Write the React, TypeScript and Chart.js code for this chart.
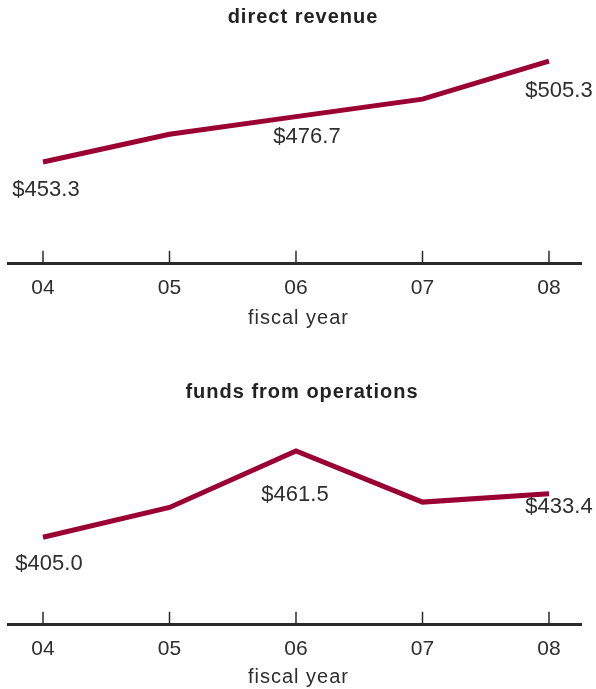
import React, { useEffect, useRef } from 'react';
import { Chart, registerables } from 'chart.js';

Chart.register(...registerables);

// ---- data ----
const years = ['04', '05', '06', '07', '08'];
const revenueValues = [453.3, 467.6, 476.7, 485.7, 505.3];
const fundsValues = [405.0, 424.5, 461.5, 428.0, 433.4];
const labeledIndices = [0, 2, 4];

// ---- styles ----
const FONT = '"Liberation Sans", Arial, Helvetica, sans-serif';
const LINE_COLOR = '#9b0033';
const TEXT_COLOR = '#2e2e2e';
const AXIS_COLOR = '#2a2a2a';

type Panel = {
  title: string;
  values: number[];
  top: number;
  height: number;
  yMin: number;
  yMax: number;
  titlePad: { top: number; bottom: number };
  titleShift: number;
  axisTitlePad: { top: number; bottom: number };
  labelOffsets: [number, number][];
};

const panels: Panel[] = [
  {
    title: 'direct revenue',
    values: revenueValues,
    top: 0,
    height: 332,
    yMin: 400.87,
    yMax: 516.7,
    titlePad: { top: 5, bottom: 10 },
    titleShift: 17,
    axisTitlePad: { top: -7, bottom: 2 },
    labelOffsets: [[3, 28], [11, 20], [10, 30]],
  },
  {
    title: 'funds from operations',
    values: fundsValues,
    top: 345,
    height: 346,
    yMin: 347.7,
    yMax: 485.65,
    titlePad: { top: 35, bottom: 10 },
    titleShift: 15,
    axisTitlePad: { top: -9, bottom: 2 },
    labelOffsets: [[6, 27], [-1, 44], [10, 13]],
  },
];

const spacingPlugin = {
  id: 'letterSpacing',
  afterLayout(chart: any, _args: any, opts: any) {
    const tb = chart.titleBlock;
    if (tb && opts && opts.titleShift) {
      tb.left += opts.titleShift;
    }
    const xs = chart.scales.x;
    if (xs && !xs.__wrapped) {
      const origLabels = xs.drawLabels;
      xs.drawLabels = function (area: any) {
        const ctx = this.ctx as any;
        const prev = ctx.letterSpacing;
        ctx.letterSpacing = '0px';
        origLabels.call(this, area);
        ctx.letterSpacing = prev;
      };
      const origTitle = xs.drawTitle;
      xs.drawTitle = function () {
        const ctx = this.ctx as any;
        ctx.save();
        ctx.translate(4, 0);
        origTitle.call(this);
        ctx.restore();
      };
      xs.__wrapped = true;
    }
  },
  beforeDraw(chart: any) {
    (chart.ctx as any).letterSpacing = '1px';
  },
  afterDraw(chart: any) {
    (chart.ctx as any).letterSpacing = '0px';
  },
};

const tickMarksPlugin = {
  id: 'tickMarks',
  beforeDatasetsDraw(chart: any) {
    const { ctx, chartArea, scales } = chart;
    const xs = scales.x;
    ctx.save();
    ctx.strokeStyle = AXIS_COLOR;
    ctx.lineWidth = 1.5;
    years.forEach((_, i) => {
      const x = xs.getPixelForValue(i);
      ctx.beginPath();
      ctx.moveTo(x, chartArea.bottom);
      ctx.lineTo(x, chartArea.bottom - 13);
      ctx.stroke();
    });
    ctx.restore();
  },
};

const valueLabelsPlugin = {
  id: 'valueLabels',
  afterDatasetsDraw(chart: any, _args: any, opts: any) {
    const { ctx } = chart;
    const meta = chart.getDatasetMeta(0);
    const data = chart.data.datasets[0].data as { x: number; y: number }[];
    ctx.save();
    (ctx as any).letterSpacing = '0px';
    ctx.font = `22px ${FONT}`;
    ctx.fillStyle = TEXT_COLOR;
    ctx.textAlign = 'center';
    ctx.textBaseline = 'middle';
    labeledIndices.forEach((idx, k) => {
      const pt = meta.data[idx];
      const [dx, dy] = opts.offsets[k];
      ctx.fillText('$' + data[idx].y.toFixed(1), pt.x + dx, pt.y + dy);
    });
    ctx.restore();
  },
};

function PanelChart({ p }: { p: Panel }) {
  const ref = useRef<HTMLCanvasElement>(null);
  useEffect(() => {
    const canvas = ref.current!;
    const chart = new Chart(canvas, {
      type: 'line',
      data: {
        datasets: [
          {
            data: p.values.map((v, i) => ({ x: i, y: v })),
            borderColor: LINE_COLOR,
            borderWidth: 5,
            pointRadius: 0,
            tension: 0,
            fill: false,
            borderJoinStyle: 'miter',
            clip: false as any,
          },
        ],
      },
      options: {
        animation: false,
        responsive: false,
        devicePixelRatio: 1,
        layout: { padding: { left: 8, right: 15, top: 0, bottom: 0 } },
        scales: {
          x: {
            type: 'linear',
            min: -0.2767,
            max: 4.253,
            afterBuildTicks: (s: any) => {
              s.ticks = years.map((_, i) => ({ value: i }));
            },
            grid: { display: false, drawTicks: false, tickLength: 0 },
            border: { display: true, color: AXIS_COLOR, width: 3 },
            ticks: {
              autoSkip: false,
              maxRotation: 0,
              padding: 12,
              color: TEXT_COLOR,
              font: { family: FONT, size: 21 },
              callback: (v: any) => years[v as number] ?? '',
            },
            title: {
              display: true,
              text: 'fiscal year',
              color: TEXT_COLOR,
              font: { family: FONT, size: 20 },
              padding: p.axisTitlePad,
            },
          },
          y: {
            display: false,
            min: p.yMin,
            max: p.yMax,
          },
        },
        plugins: {
          legend: { display: false },
          tooltip: { enabled: false },
          title: {
            display: true,
            text: p.title,
            color: '#222222',
            font: { family: FONT, size: 20, weight: 'bold' },
            padding: p.titlePad,
          },
          letterSpacing: { titleShift: p.titleShift },
          valueLabels: { offsets: p.labelOffsets },
        } as any,
      },
      plugins: [spacingPlugin, tickMarksPlugin, valueLabelsPlugin],
    } as any);
    return () => chart.destroy();
  }, [p]);
  return (
    <canvas
      ref={ref}
      width={596}
      height={p.height}
      style={{ position: 'absolute', left: 0, top: p.top, width: 596, height: p.height, display: 'block' }}
    />
  );
}

export default function App() {
  return (
    <div
      style={{
        position: 'fixed',
        left: 0,
        top: 0,
        width: 596,
        height: 689,
        overflow: 'hidden',
        background: '#ffffff',
      }}
    >
      {panels.map((p) => (
        <PanelChart key={p.title} p={p} />
      ))}
    </div>
  );
}
